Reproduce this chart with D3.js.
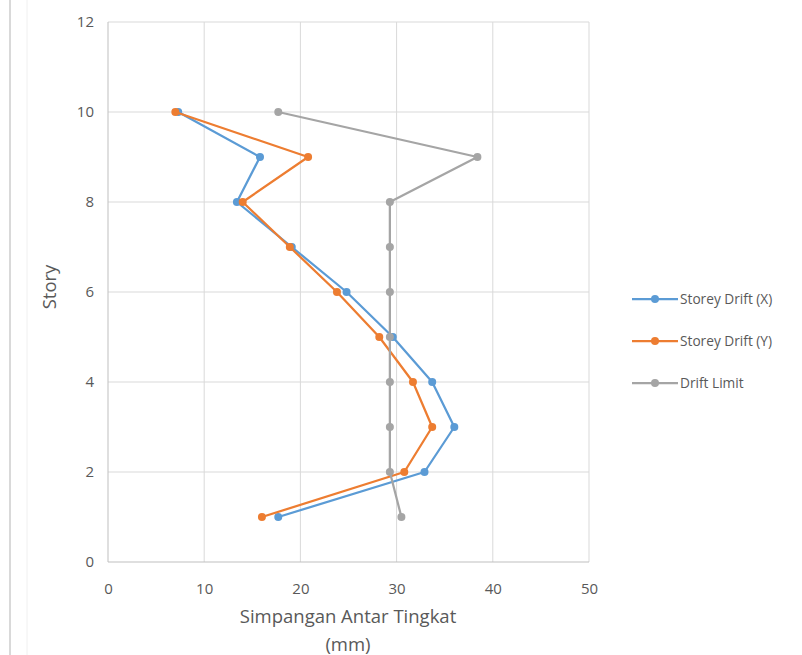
<!DOCTYPE html>
<html><head><meta charset="utf-8">
<script src="https://cdn.jsdelivr.net/npm/d3@7"></script>
<style>body{margin:0;background:#fff}svg{display:block}text{font-family:"Open Sans",sans-serif;fill:#595959}</style>
</head><body>
<script>
const stories = [1,2,3,4,5,6,7,8,9,10];
const driftX = [17.7,32.9,36.0,33.7,29.6,24.8,19.1,13.4,15.8,7.3];
const driftY = [16.0,30.8,33.7,31.7,28.2,23.8,18.9,14.0,20.8,7.0];
const driftLimit = [30.5,29.3,29.3,29.3,29.3,29.3,29.3,29.3,38.4,17.7];
const seriesNames = ["Storey Drift (X)","Storey Drift (Y)","Drift Limit"];
const xTicks = [0,10,20,30,40,50];
const yTicks = [0,2,4,6,8,10,12];
const colors = ["#5B9BD5","#ED7D31","#A5A5A5"];

const W=802,H=655;
const svg=d3.select("body").append("svg").attr("width",W).attr("height",H);
const x=d3.scaleLinear().domain([0,50]).range([108,589]);
const y=d3.scaleLinear().domain([0,12]).range([562,22]);

svg.append("line").attr("x1",10).attr("x2",10).attr("y1",0).attr("y2",H).attr("stroke","#d9d9d9").attr("stroke-width",2);
svg.append("line").attr("x1",27).attr("x2",27).attr("y1",0).attr("y2",H).attr("stroke","#f0f0f0").attr("stroke-width",1);

const g=svg.append("g");
g.selectAll(".vg").data(xTicks.slice(1)).join("line").attr("x1",d=>x(d)).attr("x2",d=>x(d)).attr("y1",y(0)).attr("y2",y(12)).attr("stroke","#d9d9d9");
g.selectAll(".hg").data(yTicks.slice(1)).join("line").attr("x1",x(0)).attr("x2",x(50)).attr("y1",d=>y(d)).attr("y2",d=>y(d)).attr("stroke","#d9d9d9");
g.append("line").attr("x1",x(0)).attr("x2",x(0)).attr("y1",y(0)).attr("y2",y(12)).attr("stroke","#bfbfbf");
g.append("line").attr("x1",x(0)).attr("x2",x(50)).attr("y1",y(0)).attr("y2",y(0)).attr("stroke","#bfbfbf");

const xa=svg.append("g").attr("transform",`translate(0,${y(0)})`).call(d3.axisBottom(x).tickValues(xTicks).tickSize(0).tickPadding(21));
xa.select(".domain").remove();
xa.selectAll("text").attr("font-size",15).style("fill","#595959").style("font-family","Open Sans");
const ya=svg.append("g").attr("transform",`translate(${x(0)},0)`).call(d3.axisLeft(y).tickValues(yTicks).tickSize(0).tickPadding(14));
ya.select(".domain").remove();
ya.selectAll("text").attr("font-size",15).style("fill","#595959").style("font-family","Open Sans");

svg.append("text").attr("x",348).attr("y",623).attr("text-anchor","middle").attr("font-size",18.5).text("Simpangan Antar Tingkat");
svg.append("text").attr("x",348).attr("y",651).attr("text-anchor","middle").attr("font-size",18.5).text("(mm)");
svg.append("text").attr("transform","translate(56,287) rotate(-90)").attr("text-anchor","middle").attr("font-size",18.5).text("Story");

const data=[driftX,driftY,driftLimit];
const line=d3.line().x(d=>x(d[0])).y(d=>y(d[1]));
data.forEach((vals,i)=>{
  const pts=vals.map((v,j)=>[v,stories[j]]);
  svg.append("path").datum(pts).attr("d",line).attr("fill","none").attr("stroke",colors[i]).attr("stroke-width",2.25).attr("stroke-linejoin","round");
  svg.selectAll(null).data(pts).join("circle").attr("cx",d=>x(d[0])).attr("cy",d=>y(d[1])).attr("r",4).attr("fill",colors[i]);
});

const leg=svg.append("g");
seriesNames.forEach((n,i)=>{
  const ly=299+i*42;
  leg.append("line").attr("x1",632).attr("x2",678).attr("y1",ly).attr("y2",ly).attr("stroke",colors[i]).attr("stroke-width",2.25);
  leg.append("circle").attr("cx",655).attr("cy",ly).attr("r",4).attr("fill",colors[i]);
  leg.append("text").attr("x",680).attr("y",ly+5).attr("font-size",13.7).text(n);
});
</script>
</body></html>
